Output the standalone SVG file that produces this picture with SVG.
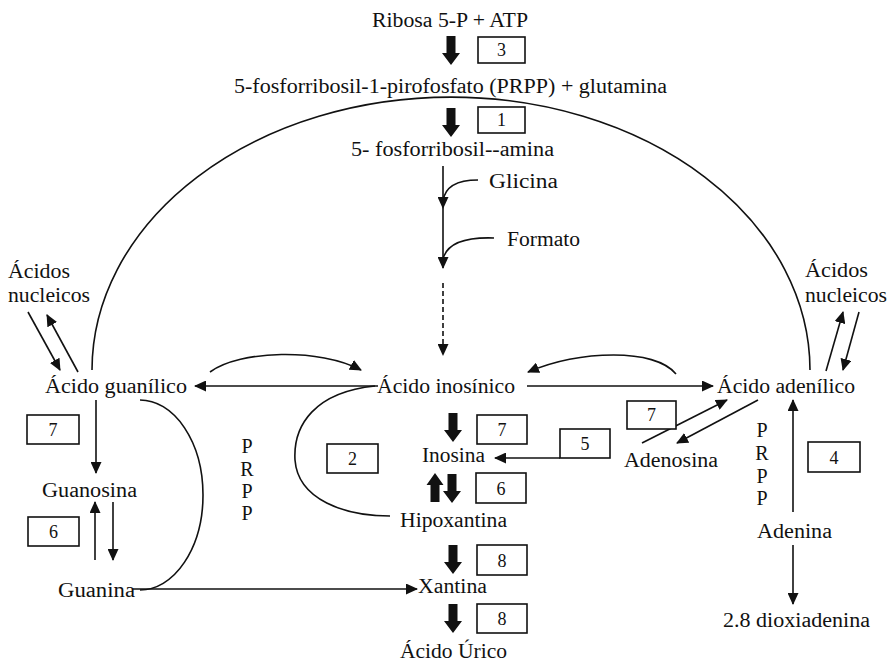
<svg xmlns="http://www.w3.org/2000/svg" xmlns:xlink="http://www.w3.org/1999/xlink" width="890" height="663" viewBox="0 0 890 663">
<style>
text{font-family:"Liberation Serif","Times New Roman",serif;font-size:20px;fill:#111}
.n{font-size:18px;text-anchor:middle}
.box{fill:#fff;stroke:#111;stroke-width:1.6}
.ln{fill:none;stroke:#111;stroke-width:1.6}
.ar{marker-end:url(#ah)}
.dash{stroke-dasharray:5 3}
.thick{fill:#111}
</style>
<defs>
<marker id="ah" markerUnits="userSpaceOnUse" markerWidth="12" markerHeight="11" refX="11" refY="5.5" orient="auto"><path d="M0,0 L12,5.5 L0,11 z" fill="#111"/></marker>
<path id="td" d="M-4.5,0 h9 v17 h4.5 l-9,12 l-9,-12 h4.5 z"/>
<path id="tu" d="M-4.5,29 h9 v-17 h4 l-8.5,-12 l-8.5,12 h4 z"/>
</defs>
<rect width="890" height="663" fill="#fff"/>

<g id="connectors">
<path class="ln" d="M92,370 A359,273 0 0 1 810,370"/>
<use href="#td" class="thick" x="451" y="36"/>
<use href="#td" class="thick" x="451" y="108"/>
<line class="ln ar" x1="443" y1="166" x2="443" y2="208"/>
<line class="ln ar" x1="443" y1="208" x2="443" y2="268"/>
<path class="ln" d="M478,180 C458,180 445,186 443,201"/>
<path class="ln" d="M494,238 C465,237 447,243 443,259"/>
<line class="ln dash ar" x1="443" y1="283" x2="443" y2="355"/>
<line class="ln ar" x1="28" y1="312" x2="60" y2="370"/>
<line class="ln ar" x1="78" y1="372" x2="47" y2="315"/>
<line class="ln ar" x1="96" y1="400" x2="96" y2="473"/>
<line class="ln ar" x1="95" y1="560" x2="95" y2="502"/>
<line class="ln ar" x1="113" y1="502" x2="113" y2="560"/>
<path class="ln" d="M140,400 A63,95 0 0 1 140,590"/>
<line class="ln ar" x1="133" y1="589" x2="417" y2="589"/>
<line class="ln ar" x1="378" y1="386" x2="195" y2="386"/>
<path class="ln ar" d="M210,372 C240,350 320,348 361,370"/>
<path class="ln" d="M375,386 C315,392 293,425 295,460 C298,500 345,516 390,516"/>
<line class="ln ar" x1="527" y1="386" x2="713" y2="386"/>
<path class="ln ar" d="M676,374 C655,348 580,350 528,372"/>
<line class="ln ar" x1="826" y1="371" x2="843" y2="312"/>
<line class="ln ar" x1="859" y1="312" x2="843" y2="370"/>
<line class="ln ar" x1="642" y1="443" x2="727" y2="400"/>
<line class="ln ar" x1="758" y1="400" x2="677" y2="443"/>
<line class="ln ar" x1="560" y1="458" x2="495" y2="458"/>
<line class="ln ar" x1="793" y1="512" x2="793" y2="400"/>
<line class="ln ar" x1="793" y1="545" x2="793" y2="604"/>
<use href="#td" class="thick" x="453" y="413"/>
<use href="#tu" class="thick" x="435" y="473"/>
<use href="#td" class="thick" x="452" y="474"/>
<use href="#td" class="thick" x="453" y="545"/>
<use href="#td" class="thick" x="453" y="604"/>
</g>

<g id="ribosa"><text x="372" y="27" textLength="156" lengthAdjust="spacingAndGlyphs">Ribosa 5-P + ATP</text></g>
<g id="prpp"><text x="234" y="93" textLength="433" lengthAdjust="spacingAndGlyphs">5-fosforribosil-1-pirofosfato (PRPP) + glutamina</text></g>
<g id="amina"><text x="351" y="156" textLength="203" lengthAdjust="spacingAndGlyphs">5- fosforribosil--amina</text></g>
<g id="glicina"><text x="489" y="188" textLength="69" lengthAdjust="spacingAndGlyphs">Glicina</text></g>
<g id="formato"><text x="507" y="246" textLength="73" lengthAdjust="spacingAndGlyphs">Formato</text></g>
<g id="acnuc-left"><text x="8" y="278" textLength="62" lengthAdjust="spacingAndGlyphs">Ácidos</text><text x="8" y="302" textLength="82" lengthAdjust="spacingAndGlyphs">nucleicos</text></g>
<g id="acnuc-right"><text x="805" y="277" textLength="63" lengthAdjust="spacingAndGlyphs">Ácidos</text><text x="805" y="302" textLength="82" lengthAdjust="spacingAndGlyphs">nucleicos</text></g>
<g id="guanilico"><text x="45" y="393" textLength="142" lengthAdjust="spacingAndGlyphs">Ácido guanílico</text></g>
<g id="inosinico"><text x="377" y="393" textLength="138" lengthAdjust="spacingAndGlyphs">Ácido inosínico</text></g>
<g id="adenilico"><text x="717" y="393" textLength="138" lengthAdjust="spacingAndGlyphs">Ácido adenílico</text></g>
<g id="inosina"><text x="422" y="462" textLength="63" lengthAdjust="spacingAndGlyphs">Inosina</text></g>
<g id="hipoxantina"><text x="400" y="527" textLength="107" lengthAdjust="spacingAndGlyphs">Hipoxantina</text></g>
<g id="xantina"><text x="418" y="593" textLength="69" lengthAdjust="spacingAndGlyphs">Xantina</text></g>
<g id="urico"><text x="400" y="658" textLength="107" lengthAdjust="spacingAndGlyphs">Ácido Úrico</text></g>
<g id="guanosina"><text x="42" y="497" textLength="95" lengthAdjust="spacingAndGlyphs">Guanosina</text></g>
<g id="guanina"><text x="58" y="597" textLength="77" lengthAdjust="spacingAndGlyphs">Guanina</text></g>
<g id="adenosina"><text x="624" y="467" textLength="94" lengthAdjust="spacingAndGlyphs">Adenosina</text></g>
<g id="adenina"><text x="757" y="538" textLength="75" lengthAdjust="spacingAndGlyphs">Adenina</text></g>
<g id="dioxiadenina"><text x="723" y="627" textLength="147" lengthAdjust="spacingAndGlyphs">2.8 dioxiadenina</text></g>
<g id="prpp-left" text-anchor="middle"><text x="247" y="453">P</text><text x="247" y="476">R</text><text x="247" y="498">P</text><text x="247" y="520">P</text></g>
<g id="prpp-right" text-anchor="middle"><text x="762" y="437">P</text><text x="762" y="460">R</text><text x="762" y="483">P</text><text x="762" y="505">P</text></g>

<g id="box3"><rect class="box" x="478" y="37" width="47" height="26"/><text class="n" x="501.5" y="56">3</text></g>
<g id="box1"><rect class="box" x="478" y="107" width="47" height="26"/><text class="n" x="501.5" y="126">1</text></g>
<g id="box7-left"><rect class="box" x="27" y="415" width="52" height="29"/><text class="n" x="53" y="436">7</text></g>
<g id="box6-left"><rect class="box" x="28" y="517" width="51" height="29"/><text class="n" x="53.5" y="538">6</text></g>
<g id="box2"><rect class="box" x="327" y="444" width="51" height="29"/><text class="n" x="352.5" y="465">2</text></g>
<g id="box7-center"><rect class="box" x="477" y="415" width="50" height="29"/><text class="n" x="502" y="436">7</text></g>
<g id="box6-center"><rect class="box" x="476" y="473" width="50" height="30"/><text class="n" x="501" y="495">6</text></g>
<g id="box8-a"><rect class="box" x="477" y="545" width="50" height="30"/><text class="n" x="502" y="567">8</text></g>
<g id="box8-b"><rect class="box" x="477" y="604" width="50" height="29"/><text class="n" x="502" y="625">8</text></g>
<g id="box7-right"><rect class="box" x="627" y="401" width="49" height="28"/><text class="n" x="651.5" y="421">7</text></g>
<g id="box5"><rect class="box" x="560" y="429" width="50" height="29"/><text class="n" x="585" y="450">5</text></g>
<g id="box4"><rect class="box" x="808" y="442" width="52" height="30"/><text class="n" x="834" y="464">4</text></g>
</svg>
